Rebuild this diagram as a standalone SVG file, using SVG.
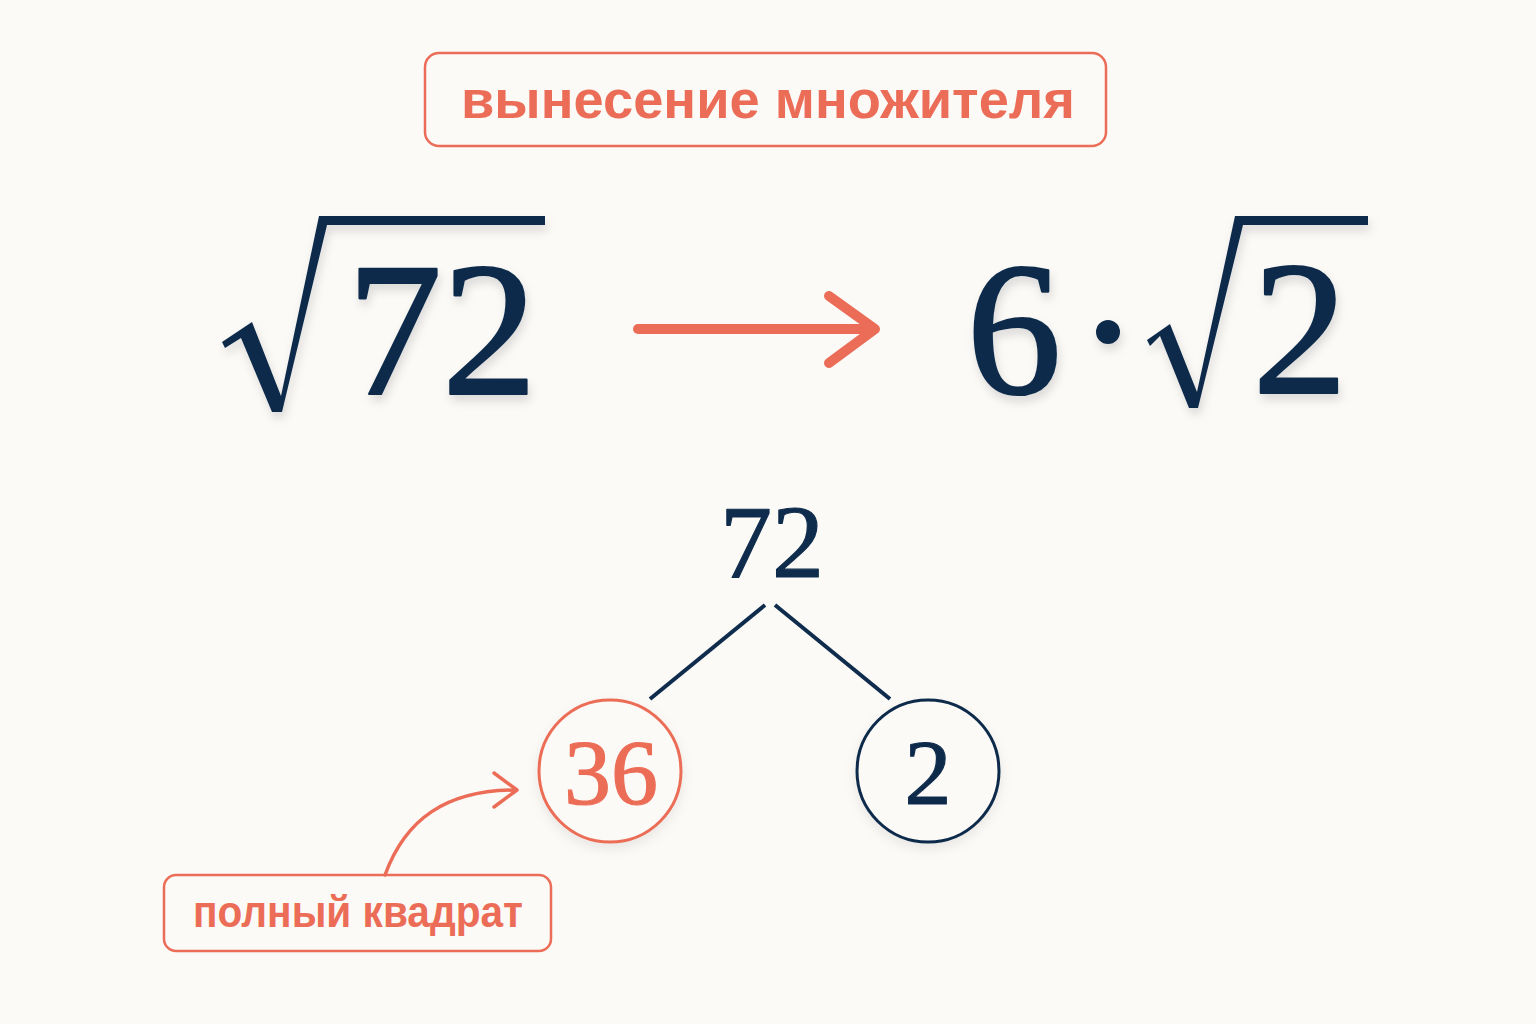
<svg xmlns="http://www.w3.org/2000/svg" width="1536" height="1024" viewBox="0 0 1536 1024">
  <style>
    .coral-box { fill: none; stroke: #EC6D57; stroke-width: 2.5; }
    .label { font-family: "Liberation Sans", Arial, sans-serif; font-weight: bold; fill: #EC6D57; text-anchor: middle; }
    .math { font-family: "Liberation Serif", "Times New Roman", serif; fill: #0F2C4C; text-anchor: middle; }
    .big { stroke: #0F2C4C; stroke-width: 2.2; stroke-linejoin: round; }
    .mid { stroke: #0F2C4C; stroke-width: 1.2; stroke-linejoin: round; }
    .navy { fill: #0F2C4C; }
    .edge { stroke: #0F2C4C; stroke-width: 4; fill: none; }
  </style>
  <defs>
    <filter id="shadow" x="-20%" y="-20%" width="140%" height="140%">
      <feDropShadow dx="2" dy="6" stdDeviation="5" flood-color="#000" flood-opacity="0.13"/>
    </filter>
    <filter id="soft" x="-20%" y="-20%" width="140%" height="140%">
      <feDropShadow dx="0" dy="5" stdDeviation="6" flood-color="#000" flood-opacity="0.08"/>
    </filter>
  </defs>
  <rect x="0" y="0" width="1536" height="1024" fill="#FBFAF7"/>

  <g id="title">
    <rect class="coral-box" x="425" y="53" width="681" height="93" rx="14"/>
    <text class="label" x="768" y="118" font-size="54" textLength="614" lengthAdjust="spacingAndGlyphs">вынесение множителя</text>
  </g>

  <g id="sqrt72" filter="url(#shadow)">
    <path class="navy" d="M222,342 L252,322 L281,396 L319,216 L545,216 L545,225 L327,225 L282,412 L272,412 L241,338 L225,348 Z"/>
    <text class="math big" x="442" y="394" font-size="190">72</text>
  </g>

  <g id="connectors">
    <g id="main-arrow" stroke="#EC6D57" stroke-width="10" stroke-linecap="round" stroke-linejoin="round" fill="none">
      <line x1="638" y1="329" x2="870" y2="329"/>
      <polyline points="829,296 875,329 829,363"/>
    </g>
    <line class="edge" x1="765" y1="605" x2="650" y2="699"/>
    <line class="edge" x1="775" y1="605" x2="890" y2="699"/>
    <g id="note-arrow" stroke="#EC6D57" stroke-width="3.5" fill="none" stroke-linecap="round" stroke-linejoin="round">
      <path d="M385,875 C405,820 445,790 516,790"/>
      <polyline points="494,773 517,790 494,807"/>
    </g>
  </g>

  <g id="result" filter="url(#shadow)">
    <text class="math big" x="1014" y="393" font-size="190">6</text>
    <circle class="navy" cx="1108" cy="332" r="12"/>
    <path class="navy" d="M1147,340 L1170,324 L1197,392 L1235,216 L1368,216 L1368,225 L1243,225 L1198,408 L1189,408 L1160,336 L1150,346 Z"/>
    <text class="math big" x="1300" y="393" font-size="190">2</text>
  </g>

  <g id="node72">
    <text class="math mid" x="772" y="577" font-size="104">72</text>
  </g>

  <g id="node36" filter="url(#soft)">
    <circle cx="610" cy="771" r="71" fill="#FBFAF7" stroke="#EC6D57" stroke-width="3"/>
    <text class="math" x="611" y="804" font-size="94" style="fill:#EC6D57;stroke:#EC6D57;stroke-width:1.2">36</text>
  </g>

  <g id="node2" filter="url(#soft)">
    <circle cx="928" cy="771" r="71" fill="#FBFAF7" stroke="#0F2C4C" stroke-width="3"/>
    <text class="math mid" x="928" y="804" font-size="94">2</text>
  </g>

  <g id="note">
    <rect class="coral-box" x="164" y="875" width="387" height="76" rx="12" fill="#FBFAF7"/>
    <text class="label" x="358" y="927" font-size="44" textLength="330" lengthAdjust="spacingAndGlyphs">полный квадрат</text>
  </g>
</svg>
